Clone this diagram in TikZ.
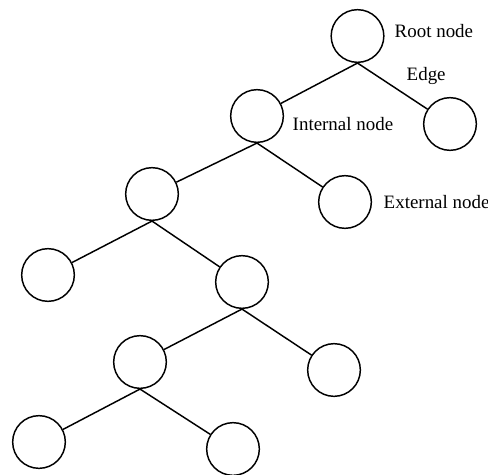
\documentclass[tikz,border=0pt]{standalone}
\usepackage{fontspec}
\setmainfont{Liberation Serif}

\tikzset{every picture/.style={line width=1.1pt}}
\tikzset{vertex/.style={draw, circle, inner sep=0pt, minimum size=39.5pt}}
\tikzset{label text/.style={anchor=base west, inner sep=0.75pt, font=\fontsize{14.2}{16}\selectfont}}

\begin{document}
\begin{tikzpicture}[x=0.75pt,y=0.75pt,yscale=-1,xscale=1]
\useasboundingbox (0,0) rectangle (488,474);

%Shape: Circle [id:root]
\node [vertex] (root) at (357.5,36) {};
%Shape: Circle [id:rleaf]
\node [vertex] (rleaf) at (450,124) {};
%Shape: Circle [id:intl]
\node [vertex] (intl) at (257,116) {};
%Shape: Circle [id:aa]
\node [vertex] (aa) at (152,194) {};
%Shape: Circle [id:ext]
\node [vertex] (ext) at (345,202) {};
%Shape: Circle [id:ab]
\node [vertex] (ab) at (48,275) {};
%Shape: Circle [id:ac]
\node [vertex] (ac) at (242,282) {};
%Shape: Circle [id:ad]
\node [vertex] (ad) at (140,362) {};
%Shape: Circle [id:ae]
\node [vertex] (ae) at (334,370) {};
%Shape: Circle [id:af]
\node [vertex] (af) at (39,442) {};
%Shape: Circle [id:ag]
\node [vertex] (ag) at (233,449) {};

%Straight Lines
\draw (root.south) -- (intl) ;
\draw (root.south) -- (rleaf) ;
\draw (intl.south) -- (aa) ;
\draw (intl.south) -- (ext) ;
\draw (aa.south) -- (ab) ;
\draw (aa.south) -- (ac) ;
\draw (ac.south) -- (ad) ;
\draw (ac.south) -- (ae) ;
\draw (ad.south) -- (af) ;
\draw (ad.south) -- (ag) ;

% Text Node
\node [label text] (troot) at (393,37.5) {Root node};
% Text Node
\node [label text] (tedge) at (405,80.5) {Edge};
% Text Node
\node [label text] (tintl) at (291,130.5) {Internal node};
% Text Node
\node [label text] (text) at (382,208) {External node};

\end{tikzpicture}
\end{document}
